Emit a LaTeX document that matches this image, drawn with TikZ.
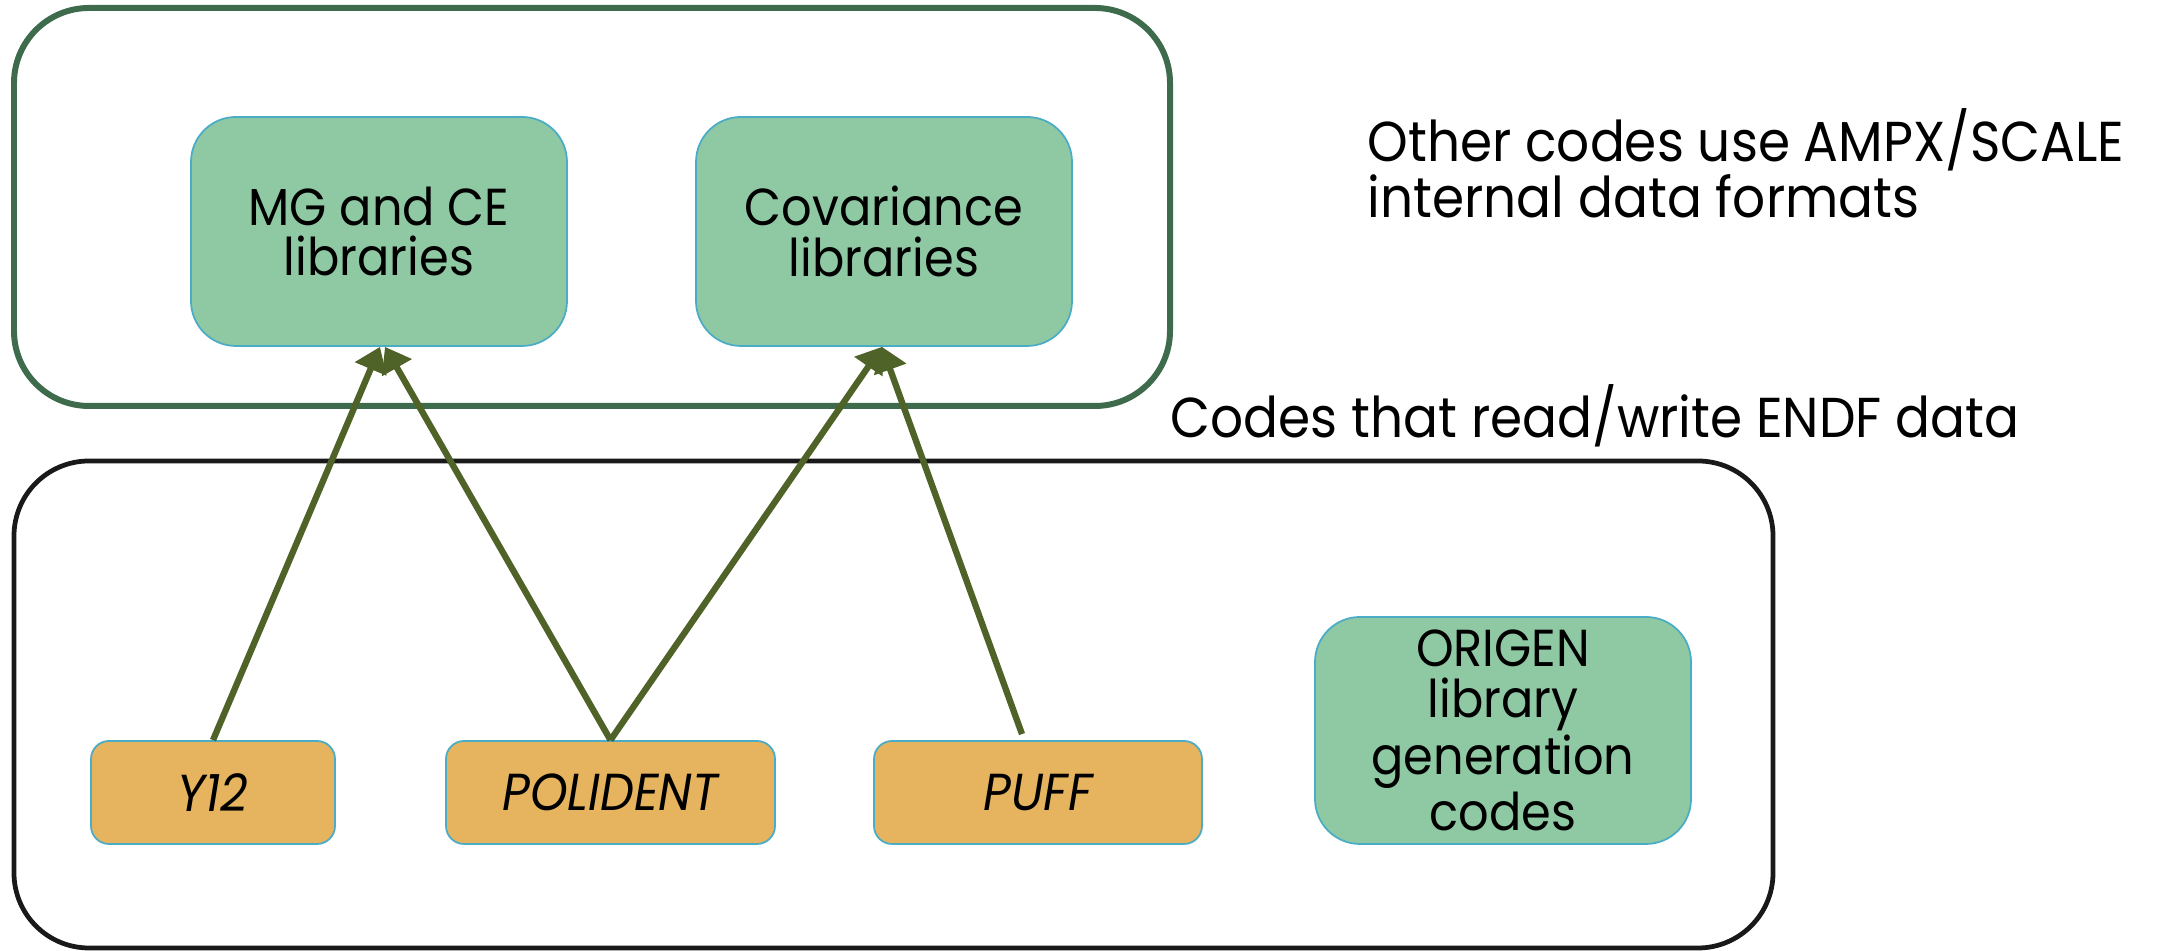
\documentclass[tikz,border=0pt]{standalone}
\usepackage{fontspec}
\setmainfont{Poppins}[FakeStretch=0.92]
\usepackage{tikz}
\usetikzlibrary{arrows.meta, positioning}
\definecolor{rahmengruen}{RGB}{61,107,76}
\definecolor{hellgruen}{RGB}{143,201,163}
\definecolor{tuerkis}{RGB}{75,172,198}
\definecolor{orangegelb}{RGB}{230,179,94}
\definecolor{oliv}{RGB}{79,98,40}

\begin{document}
\begin{tikzpicture}[
    font=\fontsize{16}{16.2}\selectfont,
    gruppe/.style={rounded corners=0.75cm, line width=1.7pt},
    bib/.style={draw=tuerkis, fill=hellgruen, line width=0.5pt, rounded corners=0.45cm,
      minimum width=3.76cm, minimum height=2.29cm, align=center, inner sep=0pt,
      font=\fontsize{14.8}{14.5}\selectfont},
    code/.style={draw=tuerkis, fill=orangegelb, line width=0.5pt, rounded corners=0.18cm,
      minimum height=1.03cm, inner sep=0pt, font=\fontsize{14.8}{14.5}\selectfont\itshape},
    pfeil/.style={draw=oliv, line width=1.8pt, -{Triangle[length=0.24cm, width=0.33cm]}}]
  \useasboundingbox (0,0) rectangle (21.59,9.51);
  % Rahmen
  \draw[gruppe, draw=rahmengruen] (0.14,5.45) rectangle (11.70,9.43);
  \draw[gruppe, draw=black!90, line width=1.35pt] (0.14,0.03) rectangle (17.73,4.90);
  % Bibliotheken
  \node[bib] (mg) at (3.79,7.195) {MG and CE\\libraries};
  \node[bib] (cov) at (8.84,7.195) {Covariance\\libraries};
  % Codes
  \node[code, minimum width=2.44cm] (y12) at (2.13,1.585) {Y12};
  \node[code, minimum width=3.29cm] (polident) at (6.105,1.585) {POLIDENT};
  \node[code, minimum width=3.28cm] (puff) at (10.38,1.585) {PUFF};
  \node[bib, minimum height=2.27cm] (origen) at (15.03,2.205)
    {ORIGEN\\library\\generation\\codes};
  % Pfeile
  \draw[pfeil] (y12.north) -- ([xshift=0.1mm]mg.south);
  \draw[pfeil] (polident.north) -- ([xshift=0.6mm]mg.south);
  \draw[pfeil] (polident.north) -- ([xshift=-0.2mm]cov.south);
  \draw[pfeil] ([xshift=-1.6mm,yshift=0.6mm]puff.north) -- ([xshift=-0.2mm]cov.south);
  % Texte
  \node[anchor=base west, align=left, inner sep=0pt] (andere) at (13.67,7.33)
    {Other codes use AMPX/SCALE\\internal data formats};
  \node[anchor=base west, inner sep=0pt] (endf) at (11.70,5.13) {Codes that read/write ENDF data};
\end{tikzpicture}
\end{document}
